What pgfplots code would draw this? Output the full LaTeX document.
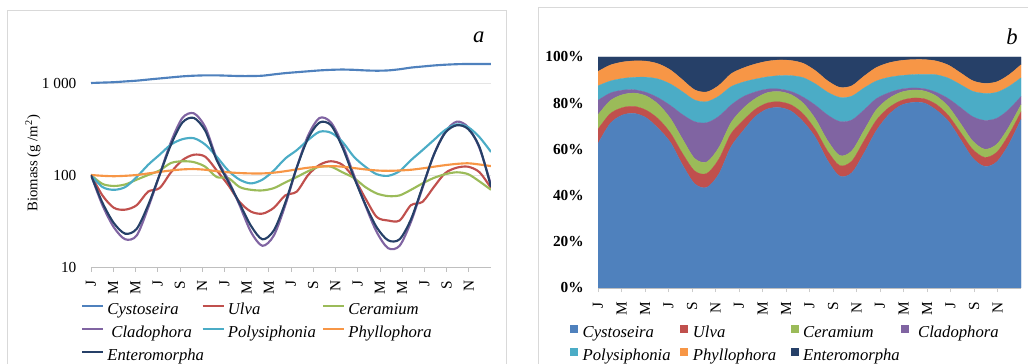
\documentclass[border=0pt]{standalone}
\usepackage{pgfplots}
\pgfplotsset{compat=1.18}
\usepackage{pgfplotstable}
\usepackage{fontspec}
\setmainfont{Liberation Serif}
\definecolor{cCys}{HTML}{4F81BD}
\definecolor{cUlv}{HTML}{C0504D}
\definecolor{cCer}{HTML}{9BBB59}
\definecolor{cCla}{HTML}{8064A2}
\definecolor{cPol}{HTML}{4BACC6}
\definecolor{cPhy}{HTML}{F79646}
\definecolor{cEnt}{HTML}{264068}

% biomass, g/m2, monthly (J of year 1 ... D of year 3)
\pgfplotstableread{
m cys ulv cer cla pol phy ent
0 1000 100 100 100 100 100 100
1 1010 60 80 47 74 98 50
2 1020 44 76 27 69 97 30
3 1040 42 79 20 74 98 23
4 1060 47 89 22 95 100 26
5 1090 66 100 44 129 104 47
6 1120 72 112 100 166 108 100
7 1150 107 135 229 214 112 214
8 1180 145 141 417 245 115 372
9 1200 166 138 468 251 116 417
10 1210 158 123 331 214 114 302
11 1210 112 95 151 158 110 145
12 1200 78 93 89 112 107 85
13 1190 51 74 47 89 105 49
14 1190 40 69 24 81 104 28
15 1200 38 68 17 89 104 20
16 1240 44 72 22 112 106 25
17 1280 60 83 47 151 110 50
18 1310 66 95 120 186 115 120
19 1340 100 110 269 240 120 251
20 1370 129 123 417 295 123 372
21 1390 141 123 372 288 125 347
22 1400 129 107 214 229 123 200
23 1390 93 93 100 158 119 95
24 1370 56 74 47 123 115 48
25 1360 35 63 24 102 112 27
26 1370 32 59 16 98 111 19.5
27 1410 32 60 17 110 112 20
28 1470 47 69 31 145 114 33
29 1510 51 81 72 186 118 74
30 1550 74 93 166 240 123 166
31 1580 105 102 295 309 128 288
32 1600 120 107 380 355 132 347
33 1610 123 102 331 331 134 316
34 1610 107 85 195 257 130 200
35 1610 72 69 78 178 125 74
}\biomass

% share of total biomass, %
\pgfplotstableread{
m cys ulv cer cla pol phy ent
0 62.50 6.25 6.25 6.25 6.25 6.25 6.25
1 71.18 4.23 5.64 3.31 5.21 6.91 3.52
2 74.83 3.23 5.58 1.98 5.06 7.12 2.20
3 75.58 3.05 5.74 1.45 5.38 7.12 1.68
4 73.66 3.27 6.18 1.53 6.60 6.95 1.81
5 68.99 4.18 6.33 2.78 8.16 6.58 2.98
6 62.99 4.05 6.30 5.62 9.34 6.07 5.63
7 53.22 4.95 6.25 10.60 9.90 5.18 9.90
8 45.12 5.54 5.39 15.95 9.37 4.40 14.23
9 43.54 6.02 5.01 16.98 9.11 4.21 15.13
10 49.35 6.44 5.02 13.50 8.73 4.65 12.31
11 61.08 5.65 4.80 7.62 7.98 5.55 7.32
12 68.03 4.42 5.27 5.05 6.35 6.07 4.81
13 74.14 3.18 4.61 2.93 5.55 6.54 3.05
14 77.47 2.60 4.49 1.56 5.27 6.77 1.84
15 78.13 2.47 4.43 1.11 5.79 6.77 1.30
16 76.50 2.71 4.44 1.36 6.91 6.54 1.54
17 71.87 3.37 4.66 2.64 8.48 6.18 2.80
18 65.11 3.28 4.72 5.96 9.24 5.72 5.97
19 55.14 4.12 4.53 11.07 9.88 4.94 10.32
20 48.43 4.56 4.35 14.74 10.43 4.35 13.14
21 49.89 5.06 4.41 13.35 10.34 4.49 12.46
22 58.28 5.37 4.45 8.91 9.53 5.12 8.34
23 67.87 4.54 4.54 4.88 7.71 5.81 4.65
24 74.74 3.06 4.04 2.56 6.71 6.27 2.62
25 78.93 2.03 3.66 1.39 5.92 6.50 1.57
26 80.33 1.88 3.46 0.94 5.75 6.51 1.13
27 80.07 1.82 3.41 0.97 6.25 6.36 1.12
28 77.00 2.46 3.61 1.62 7.60 5.97 1.74
29 72.18 2.44 3.87 3.44 8.89 5.64 3.54
30 64.26 3.07 3.86 6.88 9.95 5.10 6.88
31 56.29 3.74 3.63 10.51 11.01 4.56 10.26
32 52.61 3.95 3.52 12.50 11.67 4.34 11.41
33 54.63 4.17 3.46 11.23 11.23 4.55 10.73
34 62.31 4.14 3.29 7.55 9.95 5.03 7.73
35 72.98 3.26 3.13 3.54 8.07 5.67 3.35
}\share

\pgfplotsset{
  monthticks/.style={
    xtick={0,1.9444,3.8889,5.8333,7.7778,9.7222,11.6667,13.6111,15.5556,17.5,19.4444,21.3889,23.3333,25.2778,27.2222,29.1667,31.1111,33.0556},
    xticklabels={J,M,M,J,S,N,J,M,M,J,S,N,J,M,M,J,S,N},
  },
}

\begin{document}
\begin{tikzpicture}[x=1pt,y=1pt]
\useasboundingbox (0,0) rectangle (771,273);
\draw[black!15, line width=0.6pt] (5.25,-3) -- (5.25,265.5) -- (379.5,265.5) -- (379.5,-3);
\draw[black!15, line width=0.6pt] (403.5,-3) -- (403.5,267.75) -- (775,267.75);
\node[font=\fontsize{17}{19}\selectfont\itshape] at (359,245.25) {a};
\node[font=\fontsize{17}{19}\selectfont\itshape] at (759,245.25) {b};

\begin{axis}[
  at={(68.25pt,72.75pt)}, anchor=south west,
  width=300pt, height=166.5pt, scale only axis,
  xmin=0, xmax=35, ymode=log, ymin=10, ymax=2588,
  axis x line=bottom, axis y line=left,
  x axis line style={draw=black!25,-}, y axis line style={draw=none},
  monthticks,
  tick align=outside, major tick length=3.75pt,
  xtick style={draw=black!25, line width=0.5pt},
  ytick={10,100,1000}, yticklabels={10,100,1~000},
  ytick style={draw=none}, yminorticks=false,
  ymajorgrids, grid style={black!10, line width=0.6pt},
  xticklabel style={yshift=-6.5pt, rotate=90, anchor=east, inner sep=0pt, font=\fontsize{11.5}{13}\selectfont},
  yticklabel style={anchor=east, inner sep=0pt, xshift=-7pt, font=\fontsize{11.5}{13}\selectfont},
  ylabel={Biomass (g /m\textsuperscript{2})},
  ylabel style={at={(axis description cs:-0.145,0.468)}, anchor=center, font=\fontsize{11}{13}\selectfont},
  legend columns=3,
  legend cell align=left,
  legend style={at={(axis description cs:-0.025,-0.165)}, anchor=north west, draw=none, fill=none,
    inner sep=0pt, outer sep=0pt, row sep=6pt, column sep=0pt,
    font=\fontsize{12.5}{14}\selectfont,
    nodes={inner sep=0pt, text height=8.5pt, text depth=2.5pt}},
  legend image code/.code={\draw[#1, line width=1.6pt] (0pt,3.5pt) -- (15.75pt,3.5pt);},
]
\addplot[cCys, line width=1.6pt, smooth] table[x=m,y=cys]{\biomass};
\addlegendentry{\makebox[73pt][l]{\hspace{2.5pt}\textit{Cystoseira}}}
\addplot[cUlv, line width=1.6pt, smooth] table[x=m,y=ulv]{\biomass};
\addlegendentry{\makebox[73pt][l]{\hspace{2.5pt}\textit{Ulva}}}
\addplot[cCer, line width=1.6pt, smooth] table[x=m,y=cer]{\biomass};
\addlegendentry{\makebox[73pt][l]{\hspace{2.5pt}\textit{Ceramium}}}
\addplot[cCla, line width=1.6pt, smooth] table[x=m,y=cla]{\biomass};
\addlegendentry{\makebox[73pt][l]{\hspace{5.5pt}\textit{Cladophora}}}
\addplot[cPol, line width=1.6pt, smooth] table[x=m,y=pol]{\biomass};
\addlegendentry{\makebox[73pt][l]{\hspace{2.5pt}\textit{Polysiphonia}}}
\addplot[cPhy, line width=1.6pt, smooth] table[x=m,y=phy]{\biomass};
\addlegendentry{\makebox[73pt][l]{\hspace{2.5pt}\textit{Phyllophora}}}
\addplot[cEnt, line width=1.6pt, smooth] table[x=m,y=ent]{\biomass};
\addlegendentry{\makebox[73pt][l]{\hspace{2.5pt}\textit{Enteromorpha}}}
\end{axis}

\begin{axis}[
  at={(448.5pt,57pt)}, anchor=south west,
  width=317.25pt, height=173.25pt, scale only axis,
  xmin=0, xmax=35, ymin=0, ymax=100,
  stack plots=y,
  axis x line=bottom, axis y line=left,
  x axis line style={draw=black!25,-}, y axis line style={draw=none},
  monthticks,
  tick align=outside, major tick length=3pt,
  xtick style={draw=black!20, line width=0.5pt},
  ytick={0,20,40,60,80,100}, yticklabels={0\%,20\%,40\%,60\%,80\%,100\%},
  ytick style={draw=none},
  xticklabel style={yshift=-7.5pt, rotate=90, anchor=east, inner sep=0pt, font=\fontsize{11.5}{13}\selectfont},
  yticklabel style={anchor=east, inner sep=0pt, xshift=-7.5pt, font=\fontsize{11.5}{13}\selectfont\bfseries},
  legend columns=4,
  legend cell align=left,
  legend style={at={(axis description cs:-0.066,-0.16)}, anchor=north west, draw=none, fill=none,
    inner sep=0pt, outer sep=0pt, row sep=6pt, column sep=0pt,
    font=\fontsize{12.5}{14}\selectfont,
    nodes={inner sep=0pt, text height=8.5pt, text depth=2.5pt}},
  legend image code/.code={\fill[#1] (0pt,0.75pt) rectangle (5.25pt,6pt);},
]
\addplot[fill=cCys, draw=cCys, line width=0.2pt, smooth] table[x=m,y=cys]{\share} \closedcycle;
\addlegendentry{\makebox[77.25pt][l]{\hspace{4pt}\textit{Cystoseira}}}
\addplot[fill=cUlv, draw=cUlv, line width=0.2pt, smooth] table[x=m,y=ulv]{\share} \closedcycle;
\addlegendentry{\makebox[77.25pt][l]{\hspace{4pt}\textit{Ulva}}}
\addplot[fill=cCer, draw=cCer, line width=0.2pt, smooth] table[x=m,y=cer]{\share} \closedcycle;
\addlegendentry{\makebox[77.25pt][l]{\hspace{4pt}\textit{Ceramium}}}
\addplot[fill=cCla, draw=cCla, line width=0.2pt, smooth] table[x=m,y=cla]{\share} \closedcycle;
\addlegendentry{\makebox[77.25pt][l]{\hspace{7.5pt}\textit{Cladophora}}}
\addplot[fill=cPol, draw=cPol, line width=0.2pt, smooth] table[x=m,y=pol]{\share} \closedcycle;
\addlegendentry{\makebox[77.25pt][l]{\hspace{4pt}\textit{Polysiphonia}}}
\addplot[fill=cPhy, draw=cPhy, line width=0.2pt, smooth] table[x=m,y=phy]{\share} \closedcycle;
\addlegendentry{\makebox[77.25pt][l]{\hspace{4pt}\textit{Phyllophora}}}
\addplot[fill=cEnt, draw=cEnt, line width=0.2pt, smooth] table[x=m,y=ent]{\share} \closedcycle;
\addlegendentry{\makebox[77.25pt][l]{\hspace{4pt}\textit{Enteromorpha}}}
\end{axis}
\end{tikzpicture}
\end{document}
